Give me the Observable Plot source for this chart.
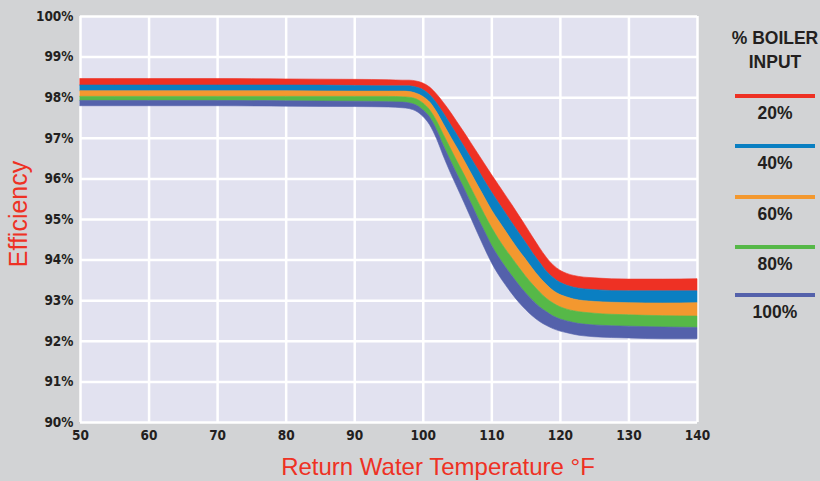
<!DOCTYPE html>
<html><head><meta charset="utf-8">
<script src="https://cdn.jsdelivr.net/npm/d3@7"></script>
<script src="https://cdn.jsdelivr.net/npm/@observablehq/plot@0.6"></script>
<style>
html,body{margin:0;padding:0;background:#d2d3d5;}
#wrap{position:relative;width:820px;height:481px;background:#d2d3d5;overflow:hidden;}
#wrap svg{position:absolute;left:0;top:0;}
.lab{position:absolute;font-family:"Liberation Sans",sans-serif;color:#ee3124;white-space:nowrap;line-height:1;}
.leg{position:absolute;left:715px;width:120px;text-align:center;font-family:"Liberation Sans",sans-serif;font-weight:bold;color:#231f20;font-size:17.5px;line-height:18px;white-space:nowrap;}
.legline{position:absolute;left:735px;width:80px;height:4px;}
</style></head>
<body><div id="wrap"></div>
<script>
// Return water temperature (°F) sample points
const temps = [50,60,70,80,90,95,97,98,99,100,101,102,103,104,105,106,107,108,109,110,111,112,113,114,115,116,117,118,119,120,121,122,125,130,135,140];
// Band edges (efficiency %), top of 20% band down to bottom of 100% band
const edge0 = [98.46,98.46,98.46,98.45,98.44,98.43,98.42,98.42,98.40,98.35,98.25,98.08,97.87,97.64,97.39,97.14,96.88,96.62,96.36,96.10,95.85,95.60,95.35,95.09,94.83,94.56,94.30,94.06,93.87,93.74,93.66,93.61,93.55,93.52,93.52,93.53];
const edge1 = [98.30,98.30,98.30,98.30,98.29,98.28,98.28,98.28,98.25,98.19,98.06,97.86,97.61,97.34,97.07,96.79,96.51,96.23,95.94,95.67,95.41,95.16,94.91,94.66,94.42,94.17,93.94,93.72,93.56,93.44,93.37,93.32,93.26,93.23,93.23,93.23];
const edge2 = [98.16,98.16,98.16,98.16,98.15,98.15,98.15,98.14,98.10,98.02,97.88,97.64,97.34,97.04,96.75,96.45,96.14,95.83,95.53,95.23,94.97,94.72,94.47,94.23,94.01,93.78,93.57,93.39,93.24,93.14,93.08,93.03,92.97,92.94,92.93,92.94];
const edge3 = [98.02,98.02,98.02,98.02,98.02,98.02,98.01,98.00,97.96,97.86,97.69,97.42,97.08,96.75,96.42,96.10,95.77,95.44,95.11,94.80,94.52,94.27,94.04,93.81,93.59,93.39,93.21,93.05,92.93,92.84,92.78,92.74,92.68,92.64,92.62,92.61];
const edge4 = [97.92,97.92,97.92,97.91,97.90,97.89,97.88,97.86,97.81,97.69,97.51,97.20,96.81,96.45,96.10,95.76,95.40,95.04,94.70,94.36,94.08,93.83,93.60,93.38,93.18,93.00,92.84,92.72,92.61,92.54,92.49,92.45,92.39,92.36,92.34,92.33];
const edge5 = [97.79,97.79,97.79,97.78,97.77,97.76,97.74,97.72,97.66,97.53,97.32,96.98,96.55,96.15,95.78,95.41,95.03,94.65,94.28,93.93,93.64,93.39,93.16,92.95,92.77,92.61,92.48,92.38,92.30,92.24,92.20,92.16,92.10,92.07,92.05,92.05];

const series = ["20%","40%","60%","80%","100%"];
const colors = ["#ee3124","#0a7fc2","#f3982f","#56b848","#5461ab"];
const xTicks = [50,60,70,80,90,100,110,120,130,140];
const yTicks = [90,91,92,93,94,95,96,97,98,99,100];
const legendTitle = ["% BOILER","INPUT"];
const xLabel = "Return Water Temperature °F";
const yLabel = "Efficiency";

const edges = [edge0,edge1,edge2,edge3,edge4,edge5];
const rows = [];
series.forEach((s,k)=>{
  temps.forEach((t,i)=>rows.push({s, x:t, top:edges[k][i], bottom:edges[k+1][i]}));
});

const chart = Plot.plot({
  width: 820, height: 481,
  marginLeft: 80, marginRight: 123, marginTop: 16, marginBottom: 59,
  style: {background:"transparent", fontFamily:"'DejaVu Sans Condensed', sans-serif", fontWeight:"bold", fontSize:"13.5px", color:"#231f20"},
  x: {domain:[50,140], label:null},
  y: {domain:[90,100], label:null},
  color: {domain: series, range: colors},
  marks: [
    Plot.frame({fill:"#e2e2f0", stroke:"none"}),
    Plot.gridX(xTicks, {stroke:"white", strokeOpacity:1, strokeWidth:2.5}),
    Plot.gridY(yTicks, {stroke:"white", strokeOpacity:1, strokeWidth:2.5}),
    Plot.areaY(rows, {x:"x", y1:"bottom", y2:"top", z:"s", fill:"s", stroke:"s", strokeWidth:0.6, curve:"monotone-x"}),
    Plot.axisX(xTicks, {tickSize:0, tickPadding:8, tickFormat:d=>String(d), fill:"#231f20", label:null}),
    Plot.axisY(yTicks, {tickSize:0, tickPadding:7, tickFormat:d=>d+"%", fill:"#231f20", label:null})
  ]
});
const wrap = document.getElementById("wrap");
wrap.appendChild(chart);

function addDiv(cls, text, css){
  const d = document.createElement("div");
  d.className = cls; d.textContent = text;
  Object.assign(d.style, css);
  wrap.appendChild(d);
  return d;
}
addDiv("lab", xLabel, {left:"238px", width:"400px", textAlign:"center", top:"455px", fontSize:"24px"});
addDiv("lab", yLabel, {left:"18px", top:"214px", fontSize:"25px", transform:"translate(-50%,-50%) rotate(-90deg)", transformOrigin:"center"});
addDiv("leg", legendTitle[0], {top:"29px"});
addDiv("leg", legendTitle[1], {top:"53px"});
const lineY = [96,146,197,247,295];
series.forEach((s,k)=>{
  const l = document.createElement("div");
  l.className = "legline";
  l.style.top = (lineY[k]-2)+"px";
  l.style.background = colors[k];
  wrap.appendChild(l);
  addDiv("leg", s, {top:(lineY[k]+8)+"px"});
});
</script></body></html>
